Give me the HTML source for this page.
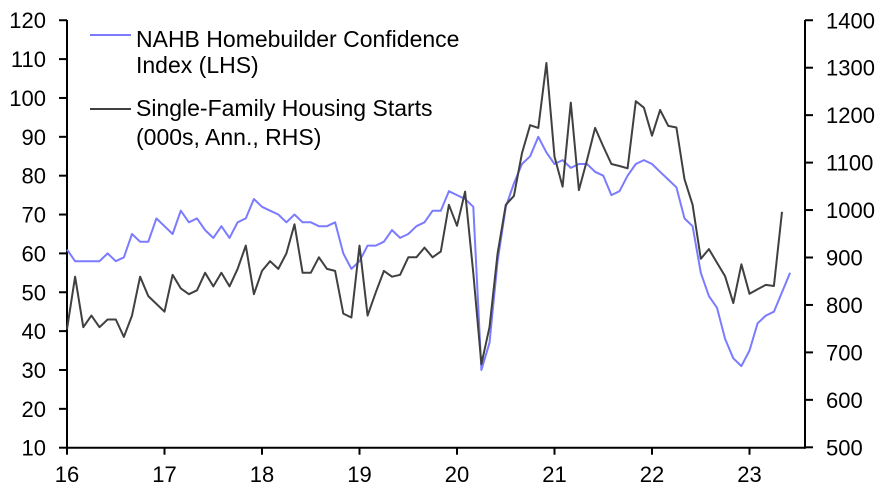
<!DOCTYPE html>
<html><head><meta charset="utf-8"><style>
html,body{margin:0;padding:0;background:#fff;}
svg{display:block;}
text{font-family:"Liberation Sans",Arial,sans-serif;fill:#000;}
</style></head><body>
<svg id="c" width="886" height="499" viewBox="0 0 886 499" xmlns="http://www.w3.org/2000/svg">
<g id="g"></g>
<text x="136" y="47" font-size="23">NAHB Homebuilder Confidence</text>
<text x="136" y="73" font-size="23">Index (LHS)</text>
<text x="136" y="116" font-size="23">Single-Family Housing Starts</text>
<text x="136" y="145" font-size="23">(000s, Ann., RHS)</text>
<line x1="90" y1="35" x2="131" y2="35" stroke="#7b7bff" stroke-width="2"/>
<line x1="90" y1="109" x2="131" y2="109" stroke="#404040" stroke-width="2"/>
</svg>
<script>
var g=document.getElementById('g');var ns='http://www.w3.org/2000/svg';
function el(t,a,txt){var e=document.createElementNS(ns,t);for(var k in a)e.setAttribute(k,a[k]);if(txt!=null)e.textContent=txt;g.appendChild(e);return e;}
var X0=67,XM=8.125,YB=447.7,YS=3.886;
function xm(i){return X0+i*XM;}
function yl(v){return YB-(v-10)*YS;}
var blue=[61,58,58,58,58,60,58,59,65,63,63,69,
67,65,71,68,69,66,64,67,64,68,69,74,
72,71,70,68,70,68,68,67,67,68,60,56,
58,62,62,63,66,64,65,67,68,71,71,76,
75,74,72,30,37,58,72,78,83,85,90,86,
83,84,82,83,83,81,80,75,76,80,83,84,
83,81,79,77,69,67,55,49,46,38,33,31,
35,42,44,45,50,55];
var black=[40.5,54,41,44,41,43,43,38.5,44,54,49,47,
45,54.5,51,49.5,50.5,55,51.5,55,51.5,56,62,49.5,
55.5,58,56,60,67.5,55,55,59,56,55.5,44.5,43.5,
62,44,50,55.5,54,54.5,59,59,61.5,59,60.5,72.5,
67.1,75.9,54.9,31.5,41,60,72.5,74.8,85.8,93,92.3,109,
84.9,77.2,98.8,76.3,84,92.3,87.5,83,82.5,81.9,99.2,97.5,
90.3,96.9,92.8,92.4,79.1,72.5,58.6,61.1,57.6,54.1,47.2,57.2,
49.6,50.8,51.9,51.6,70.7];
function path(d,c){var s='';d.forEach(function(v,i){s+=(i?'L':'M')+xm(i).toFixed(1)+' '+yl(v).toFixed(1);});el('path',{d:s,fill:'none',stroke:c,'stroke-width':2,'stroke-linejoin':'round'});}
el('line',{x1:67,y1:YB,x2:805,y2:YB,stroke:'#000','stroke-width':2});
el('line',{x1:67,y1:20,x2:67,y2:YB+1,stroke:'#000','stroke-width':2});
el('line',{x1:805,y1:20,x2:805,y2:YB+1,stroke:'#000','stroke-width':2});
for(var v=10;v<=120;v+=10){var y=yl(v);el('line',{x1:59,y1:y,x2:67,y2:y,stroke:'#000','stroke-width':2});el('text',{x:46,y:y+8,'font-size':22,'text-anchor':'end'},v);}
for(var r=500;r<=1400;r+=100){var y=447.3-(r-500)*0.4745;el('line',{x1:805,y1:y,x2:813,y2:y,stroke:'#000','stroke-width':2});el('text',{x:826,y:y+8,'font-size':22},r);}
var yrs=[16,17,18,19,20,21,22,23];
yrs.forEach(function(yv,i){var x=xm(i*12);el('line',{x1:x,y1:YB,x2:x,y2:YB+7,stroke:'#000','stroke-width':2});el('text',{x:x,y:482,'font-size':22,'text-anchor':'middle'},yv);});
path(blue,'#7b7bff');path(black,'#404040');
</script>
</body></html>
